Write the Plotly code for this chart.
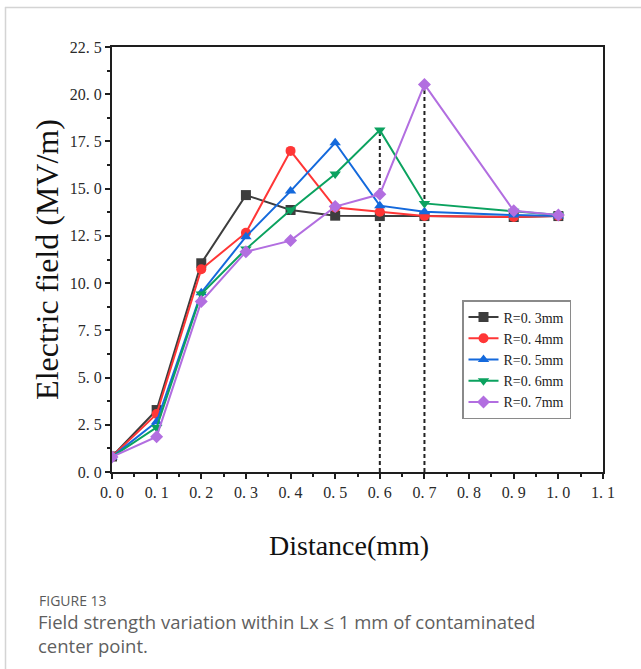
import plotly.graph_objects as go

# Distance from the contaminated center point (mm)
distance = [0.0, 0.1, 0.2, 0.3, 0.4, 0.5, 0.6, 0.7, 0.9, 1.0]

# Electric field (MV/m) for each contaminant radius
field_r03 = [0.82, 3.28, 11.05, 14.66, 13.87, 13.57, 13.55, 13.55, 13.50, 13.55]
field_r04 = [0.82, 3.07, 10.73, 12.67, 17.00, 14.00, 13.78, 13.55, 13.50, 13.55]
field_r05 = [0.80, 2.66, 9.49, 12.46, 14.87, 17.43, 14.10, 13.78, 13.60, 13.55]
field_r06 = [0.80, 2.36, 9.42, 11.80, 13.87, 15.78, 18.10, 14.22, 13.80, 13.60]
field_r07 = [0.80, 1.87, 9.02, 11.66, 12.25, 14.05, 14.70, 20.52, 13.83, 13.60]

series_names = ["R=0. 3mm", "R=0. 4mm", "R=0. 5mm", "R=0. 6mm", "R=0. 7mm"]
series_values = [field_r03, field_r04, field_r05, field_r06, field_r07]
series_colors = ["#3d3d3d", "#ff3636", "#1469dc", "#0ba25f", "#b26ee0"]
series_symbols = ["square", "circle", "triangle-up", "triangle-down", "diamond"]

# Peak positions marked with dashed guide lines
peak_x = [0.6, 0.7]
peak_series = [field_r06, field_r07]

x_tickvals = [0.0, 0.1, 0.2, 0.3, 0.4, 0.5, 0.6, 0.7, 0.8, 0.9, 1.0, 1.1]
x_ticktext = ["0. 0", "0. 1", "0. 2", "0. 3", "0. 4", "0. 5", "0. 6", "0. 7",
              "0. 8", "0. 9", "1. 0", "1. 1"]
y_tickvals = [0.0, 2.5, 5.0, 7.5, 10.0, 12.5, 15.0, 17.5, 20.0, 22.5]
y_ticktext = ["0. 0", "2. 5", "5. 0", "7. 5", "10. 0", "12. 5", "15. 0",
              "17. 5", "20. 0", "22. 5"]

SERIF = "Liberation Serif, Times New Roman, serif"
SANS = "Open Sans, Noto Sans, sans-serif"

fig = go.Figure()

# Dashed vertical guides from the axis up to the peak values
for px, vals in zip(peak_x, peak_series):
    peak_val = vals[distance.index(px)]
    fig.add_trace(go.Scatter(
        x=[px, px], y=[0, peak_val], mode="lines",
        line=dict(color="#222222", width=2, dash="4px,3px"),
        showlegend=False, hoverinfo="skip",
    ))

for name, vals, color, sym in zip(series_names, series_values, series_colors, series_symbols):
    fig.add_trace(go.Scatter(
        x=distance, y=vals, name=name, mode="lines+markers",
        line=dict(color=color, width=2),
        marker=dict(symbol=sym, size=10, color=color),
    ))

W, H = 641, 669
L, R, T, B = 112, 38, 47, 197
pw, ph = W - L - R, H - T - B


def px_x(p):
    return (p - L) / pw


def px_y(p):
    return (H - B - p) / ph


axis_common = dict(
    showline=True, linecolor="#1e1e1e", linewidth=2, mirror=True,
    showgrid=False, zeroline=False,
    ticks="outside", ticklen=5, tickwidth=2, tickcolor="#1e1e1e",
    tickfont=dict(family=SERIF, size=16, color="#2a2a2a"),
)

fig.update_xaxes(
    range=[0, 1.1], tickmode="array", tickvals=x_tickvals, ticktext=x_ticktext,
    minor=dict(ticks="outside", ticklen=3, tickwidth=2, tickcolor="#1e1e1e", dtick=0.05),
    **axis_common,
)
fig.update_yaxes(
    range=[0, 22.5], tickmode="array", tickvals=y_tickvals, ticktext=y_ticktext,
    minor=dict(ticks="outside", ticklen=3, tickwidth=2, tickcolor="#1e1e1e", dtick=1.25),
    title=dict(text="Electric field (MV/m)", font=dict(family=SERIF, size=32, color="#111111"), standoff=2),
    **axis_common,
)

# X-axis title
fig.add_annotation(text="Distance(mm)", xref="paper", yref="paper",
                   x=px_x(349), y=px_y(545), xanchor="center", yanchor="middle",
                   showarrow=False, font=dict(family=SERIF, size=28, color="#111111"))

# Card border (top and left edges)
fig.add_shape(type="line", xref="paper", yref="paper",
              x0=px_x(5), x1=px_x(W + 5), y0=px_y(7.5), y1=px_y(7.5),
              line=dict(color="#d4d4d4", width=1.5))
fig.add_shape(type="line", xref="paper", yref="paper",
              x0=px_x(5.5), x1=px_x(5.5), y0=px_y(7), y1=px_y(H + 5),
              line=dict(color="#d4d4d4", width=1.5))

# Caption
fig.add_annotation(text="FIGURE 13", xref="paper", yref="paper",
                   x=px_x(37), y=px_y(600), xanchor="left", yanchor="middle",
                   showarrow=False, font=dict(family=SANS, size=14, color="#5a5a5a"))
fig.add_annotation(text="Field strength variation within Lx ≤ 1 mm of contaminated<br>center point.",
                   xref="paper", yref="paper", x=px_x(36), y=px_y(633),
                   xanchor="left", yanchor="middle", align="left", showarrow=False,
                   font=dict(family=SANS, size=18.5, color="#5f5f5f"))

fig.update_layout(
    width=W, height=H,
    margin=dict(l=L, r=R, t=T, b=B, autoexpand=False),
    paper_bgcolor="white", plot_bgcolor="white",
    legend=dict(
        x=px_x(462), y=px_y(300), xanchor="left", yanchor="top",
        bordercolor="#8a8a8a", borderwidth=1.5, bgcolor="white",
        font=dict(family=SERIF, size=14, color="#222222"),
        tracegroupgap=0, itemwidth=30,
    ),
)

fig.write_html("out.html")
